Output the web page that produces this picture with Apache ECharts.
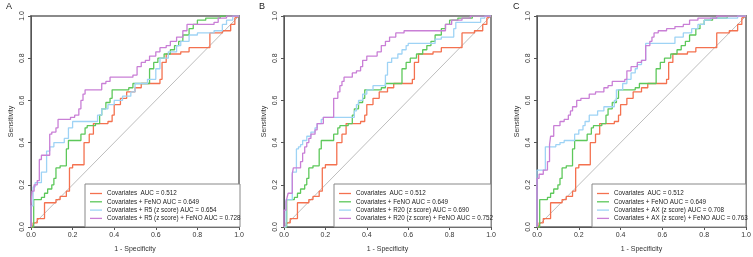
<!DOCTYPE html>
<html>
<head>
<meta charset="utf-8">
<script src="https://cdn.jsdelivr.net/npm/echarts@6/dist/echarts.min.js"></script>
<style>
  html, body { margin: 0; padding: 0; background: #fff; }
  #chart { width: 753px; height: 257px; }
</style>
</head>
<body>
<div id="chart"></div>
<script>
// ---- data: ROC points [1 - specificity, sensitivity] ----
const panelLetters = ["A", "B", "C"];
const tickLabels = ["0.0", "0.2", "0.4", "0.6", "0.8", "1.0"];
const diagonal = [[0, 0], [1, 1]];

// shared across panels
const covariates = [[0,0],[0.01,0],[0.01,0.02],[0.03,0.02],[0.03,0.04],[0.065,0.04],[0.065,0.115],[0.12,0.115],[0.12,0.13],[0.14,0.13],[0.14,0.145],[0.17,0.145],[0.17,0.17],[0.185,0.17],[0.185,0.28],[0.2,0.28],[0.2,0.295],[0.255,0.295],[0.255,0.40],[0.28,0.40],[0.28,0.44],[0.30,0.44],[0.30,0.49],[0.37,0.49],[0.37,0.50],[0.39,0.50],[0.39,0.53],[0.40,0.53],[0.40,0.58],[0.43,0.58],[0.43,0.61],[0.46,0.61],[0.46,0.64],[0.50,0.64],[0.50,0.66],[0.53,0.66],[0.53,0.68],[0.62,0.68],[0.62,0.70],[0.63,0.70],[0.63,0.78],[0.65,0.78],[0.65,0.82],[0.72,0.82],[0.72,0.83],[0.76,0.83],[0.76,0.85],[0.86,0.85],[0.86,0.92],[0.92,0.92],[0.92,0.93],[0.96,0.93],[0.96,0.96],[0.98,0.96],[0.98,0.99],[1,1]];
const feno = [[0,0],[0.013,0],[0.013,0.13],[0.05,0.13],[0.05,0.14],[0.065,0.14],[0.065,0.16],[0.08,0.16],[0.08,0.18],[0.1,0.18],[0.1,0.2],[0.11,0.2],[0.11,0.23],[0.12,0.23],[0.12,0.28],[0.14,0.28],[0.14,0.29],[0.17,0.29],[0.17,0.37],[0.18,0.37],[0.18,0.41],[0.24,0.41],[0.24,0.44],[0.26,0.44],[0.26,0.47],[0.27,0.47],[0.27,0.48],[0.31,0.48],[0.31,0.49],[0.33,0.49],[0.33,0.53],[0.34,0.53],[0.34,0.56],[0.36,0.56],[0.36,0.59],[0.38,0.59],[0.38,0.61],[0.39,0.61],[0.39,0.65],[0.47,0.65],[0.47,0.66],[0.49,0.66],[0.49,0.68],[0.57,0.68],[0.57,0.75],[0.59,0.75],[0.59,0.78],[0.61,0.78],[0.61,0.80],[0.64,0.80],[0.64,0.82],[0.67,0.82],[0.67,0.84],[0.69,0.84],[0.69,0.86],[0.71,0.86],[0.71,0.88],[0.73,0.88],[0.73,0.91],[0.76,0.91],[0.76,0.94],[0.78,0.94],[0.78,0.96],[0.8,0.96],[0.8,0.98],[0.84,0.98],[0.84,0.99],[0.91,0.99],[0.91,1],[1,1]];

// panel A
const r5 = [[0,0],[0,0.1],[0.01,0.1],[0.01,0.19],[0.02,0.19],[0.02,0.21],[0.05,0.21],[0.05,0.26],[0.075,0.26],[0.075,0.36],[0.09,0.36],[0.09,0.38],[0.11,0.38],[0.11,0.40],[0.16,0.40],[0.16,0.42],[0.18,0.42],[0.18,0.47],[0.2,0.47],[0.2,0.50],[0.32,0.50],[0.32,0.53],[0.34,0.53],[0.34,0.56],[0.37,0.56],[0.37,0.58],[0.40,0.58],[0.40,0.60],[0.44,0.60],[0.44,0.62],[0.48,0.62],[0.48,0.64],[0.50,0.64],[0.50,0.68],[0.56,0.68],[0.56,0.70],[0.60,0.70],[0.60,0.75],[0.62,0.75],[0.62,0.80],[0.66,0.80],[0.66,0.83],[0.70,0.83],[0.70,0.86],[0.72,0.86],[0.72,0.88],[0.76,0.88],[0.76,0.91],[0.80,0.91],[0.80,0.92],[0.88,0.92],[0.88,0.93],[0.92,0.93],[0.92,0.96],[0.94,0.96],[0.94,0.98],[0.97,0.98],[0.97,1],[1,1]];
const r5Feno = [[0,0],[0,0.1],[0.005,0.1],[0.005,0.17],[0.015,0.17],[0.015,0.2],[0.03,0.2],[0.03,0.22],[0.04,0.22],[0.04,0.32],[0.05,0.32],[0.05,0.34],[0.09,0.34],[0.09,0.44],[0.1,0.44],[0.1,0.45],[0.12,0.45],[0.12,0.47],[0.13,0.47],[0.13,0.51],[0.19,0.51],[0.19,0.52],[0.21,0.52],[0.21,0.53],[0.23,0.53],[0.23,0.56],[0.24,0.56],[0.24,0.60],[0.25,0.60],[0.25,0.63],[0.26,0.63],[0.26,0.65],[0.34,0.65],[0.34,0.68],[0.36,0.68],[0.36,0.69],[0.38,0.69],[0.38,0.71],[0.49,0.71],[0.49,0.72],[0.51,0.72],[0.51,0.76],[0.53,0.76],[0.53,0.78],[0.55,0.78],[0.55,0.79],[0.57,0.79],[0.57,0.81],[0.60,0.81],[0.60,0.83],[0.62,0.83],[0.62,0.85],[0.65,0.85],[0.65,0.86],[0.67,0.86],[0.67,0.88],[0.70,0.88],[0.70,0.9],[0.73,0.9],[0.73,0.93],[0.75,0.93],[0.75,0.96],[0.88,0.96],[0.88,0.97],[0.9,0.97],[0.9,0.99],[0.94,0.99],[0.94,1],[1,1]];

// panel B
const r20 = [[0,0],[0.01,0],[0.01,0.13],[0.04,0.13],[0.04,0.26],[0.06,0.26],[0.06,0.37],[0.07,0.37],[0.07,0.38],[0.08,0.38],[0.08,0.39],[0.09,0.39],[0.09,0.41],[0.11,0.41],[0.11,0.43],[0.13,0.43],[0.13,0.45],[0.15,0.45],[0.15,0.47],[0.16,0.47],[0.16,0.49],[0.18,0.49],[0.18,0.51],[0.19,0.51],[0.19,0.52],[0.34,0.52],[0.34,0.55],[0.35,0.55],[0.35,0.58],[0.36,0.58],[0.36,0.60],[0.38,0.60],[0.38,0.63],[0.40,0.63],[0.40,0.65],[0.43,0.65],[0.43,0.67],[0.49,0.67],[0.49,0.72],[0.50,0.72],[0.50,0.78],[0.52,0.78],[0.52,0.80],[0.55,0.80],[0.55,0.82],[0.57,0.82],[0.57,0.84],[0.59,0.84],[0.59,0.86],[0.60,0.86],[0.60,0.87],[0.73,0.87],[0.73,0.89],[0.76,0.89],[0.76,0.90],[0.82,0.90],[0.82,0.94],[0.83,0.94],[0.83,0.97],[0.95,0.97],[0.95,0.99],[0.97,0.99],[0.97,1],[1,1]];
const r20Feno = [[0,0],[0,0.08],[0.01,0.08],[0.01,0.12],[0.015,0.12],[0.015,0.14],[0.02,0.14],[0.02,0.16],[0.04,0.16],[0.04,0.25],[0.045,0.25],[0.045,0.28],[0.08,0.28],[0.08,0.31],[0.09,0.31],[0.09,0.35],[0.10,0.35],[0.10,0.38],[0.11,0.38],[0.11,0.40],[0.12,0.40],[0.12,0.42],[0.13,0.42],[0.13,0.44],[0.15,0.44],[0.15,0.46],[0.16,0.46],[0.16,0.49],[0.19,0.49],[0.19,0.52],[0.24,0.52],[0.24,0.61],[0.26,0.61],[0.26,0.64],[0.27,0.64],[0.27,0.67],[0.28,0.67],[0.28,0.69],[0.29,0.69],[0.29,0.71],[0.33,0.71],[0.33,0.73],[0.35,0.73],[0.35,0.74],[0.37,0.74],[0.37,0.76],[0.38,0.76],[0.38,0.79],[0.40,0.79],[0.40,0.81],[0.45,0.81],[0.45,0.83],[0.47,0.83],[0.47,0.86],[0.49,0.86],[0.49,0.88],[0.51,0.88],[0.51,0.90],[0.54,0.90],[0.54,0.92],[0.58,0.92],[0.58,0.93],[0.78,0.93],[0.78,0.96],[0.81,0.96],[0.81,0.98],[0.86,0.98],[0.86,0.99],[0.9,0.99],[0.9,1],[1,1]];

// panel C
const ax = [[0,0],[0,0.27],[0.04,0.27],[0.04,0.38],[0.09,0.38],[0.09,0.39],[0.11,0.39],[0.11,0.40],[0.13,0.40],[0.13,0.41],[0.18,0.41],[0.18,0.44],[0.2,0.44],[0.2,0.46],[0.22,0.46],[0.22,0.48],[0.23,0.48],[0.23,0.50],[0.25,0.50],[0.25,0.53],[0.29,0.53],[0.29,0.55],[0.32,0.55],[0.32,0.57],[0.37,0.57],[0.37,0.60],[0.38,0.60],[0.38,0.65],[0.41,0.65],[0.41,0.68],[0.43,0.68],[0.43,0.70],[0.45,0.70],[0.45,0.73],[0.47,0.73],[0.47,0.75],[0.48,0.75],[0.48,0.77],[0.50,0.77],[0.50,0.79],[0.52,0.79],[0.52,0.87],[0.66,0.87],[0.66,0.90],[0.70,0.90],[0.70,0.92],[0.74,0.92],[0.74,0.94],[0.77,0.94],[0.77,0.96],[0.80,0.96],[0.80,0.98],[0.83,0.98],[0.83,0.99],[0.96,0.99],[0.96,1],[1,1]];
const axFeno = [[0,0],[0,0.23],[0.01,0.23],[0.01,0.25],[0.03,0.25],[0.03,0.27],[0.05,0.27],[0.05,0.31],[0.06,0.31],[0.06,0.39],[0.065,0.39],[0.065,0.43],[0.08,0.43],[0.08,0.48],[0.11,0.48],[0.11,0.50],[0.13,0.50],[0.13,0.51],[0.15,0.51],[0.15,0.53],[0.16,0.53],[0.16,0.55],[0.17,0.55],[0.17,0.57],[0.19,0.57],[0.19,0.60],[0.21,0.60],[0.21,0.61],[0.25,0.61],[0.25,0.63],[0.28,0.63],[0.28,0.64],[0.32,0.64],[0.32,0.66],[0.34,0.66],[0.34,0.67],[0.36,0.67],[0.36,0.69],[0.42,0.69],[0.42,0.70],[0.43,0.70],[0.43,0.74],[0.45,0.74],[0.45,0.76],[0.48,0.76],[0.48,0.78],[0.50,0.78],[0.50,0.79],[0.52,0.79],[0.52,0.86],[0.54,0.86],[0.54,0.88],[0.55,0.88],[0.55,0.90],[0.56,0.90],[0.56,0.92],[0.58,0.92],[0.58,0.93],[0.62,0.93],[0.62,0.94],[0.66,0.94],[0.66,0.95],[0.70,0.95],[0.70,0.96],[0.73,0.96],[0.73,0.98],[0.77,0.98],[0.77,0.99],[0.86,0.99],[0.86,1],[1,1]];

const panelNames = [
  ["Covariates  AUC = 0.512", "Covariates + FeNO AUC = 0.649", "Covariates + R5 (z score) AUC = 0.654", "Covariates + R5 (z score) + FeNO AUC = 0.728"],
  ["Covariates  AUC = 0.512", "Covariates + FeNO AUC = 0.649", "Covariates + R20 (z score) AUC = 0.690", "Covariates + R20 (z score) + FeNO AUC = 0.752"],
  ["Covariates  AUC = 0.512", "Covariates + FeNO AUC = 0.649", "Covariates + AX (z score) AUC = 0.708", "Covariates + AX (z score) + FeNO AUC = 0.763"],
];
const panelCurves = [
  [covariates, feno, r5, r5Feno],
  [covariates, feno, r20, r20Feno],
  [covariates, feno, ax, axFeno],
];

/* ---- layout ---- */
const COLORS = ["#f4714f", "#5dc85a", "#9ed3f5", "#c97fd6"];
const FONT = "Liberation Sans, Arial, sans-serif";
const grids = [
  { left: 31, top: 16, width: 208, height: 211 },
  { left: 284, top: 16, width: 207, height: 211 },
  { left: 537, top: 16, width: 209, height: 211 },
];
const legendBoxes = [
  { x: 85, w: 155 },
  { x: 334, w: 157 },
  { x: 592, w: 154 },
];
const letterLeft = [6, 259, 513];

const chart = echarts.init(document.getElementById("chart"), null, { renderer: "canvas" });

const axisCommon = {
  type: "value",
  min: 0,
  max: 1,
  interval: 0.2,
  splitLine: { show: false },
  axisLine: { show: true, onZero: false, lineStyle: { color: "#555", width: 1 } },
  axisTick: { show: true, length: 3, lineStyle: { color: "#555" } },
  nameTextStyle: { fontSize: 7, color: "#333", fontFamily: FONT },
};
const labelCommon = {
  fontSize: 7,
  color: "#333",
  fontFamily: FONT,
  margin: 5,
  overflow: "none",
  hideOverlap: false,
  showMinLabel: true,
  showMaxLabel: true,
  formatter: (v) => tickLabels[Math.round(v * 5)],
};

const xAxis = grids.map((g, i) => ({
  ...axisCommon,
  gridIndex: i,
  name: "1 - Specificity",
  nameLocation: "middle",
  nameGap: 19,
  axisLabel: { ...labelCommon },
}));
const yAxis = grids.map((g, i) => ({
  ...axisCommon,
  gridIndex: i,
  name: "Sensitivity",
  nameLocation: "middle",
  nameGap: 16,
  axisLabel: { ...labelCommon, rotate: 90 },
}));

const series = [];
panelCurves.forEach((curves, p) => {
  series.push({
    type: "line",
    xAxisIndex: p,
    yAxisIndex: p,
    data: diagonal,
    symbol: "none",
    silent: true,
    lineStyle: { color: "#bdbdbd", width: 1 },
    z: 1,
  });
  curves.forEach((pts, k) => {
    series.push({
      name: panelNames[p][k],
      type: "line",
      xAxisIndex: p,
      yAxisIndex: p,
      data: pts,
      symbol: "none",
      color: COLORS[k],
      lineStyle: { color: COLORS[k], width: 1.3 },
      z: 2 + k,
    });
  });
});

const legend = legendBoxes.map((b, p) => ({
  data: panelNames[p],
  orient: "vertical",
  left: b.x + 5,
  top: 190,
  padding: 0,
  icon: "rect",
  itemWidth: 12,
  itemHeight: 1.3,
  itemGap: 1.3,
  selectedMode: false,
  textStyle: { fontSize: 6.3, color: "#222", fontFamily: FONT, lineHeight: 7 },
  z: 10,
}));

const graphic = legendBoxes.map((b) => ({
  type: "rect",
  shape: { x: b.x, y: 184, width: b.w, height: 43 },
  style: { fill: "#fff", stroke: "#888", lineWidth: 1 },
  z: 5,
}));

chart.setOption({
  backgroundColor: "#fff",
  animation: false,
  title: panelLetters.map((t, i) => ({
    text: t,
    left: letterLeft[i],
    top: 2,
    padding: 0,
    textStyle: { fontSize: 9, fontWeight: "normal", color: "#222", fontFamily: FONT },
  })),
  grid: grids.map((g) => ({ ...g, show: true, borderColor: "#8a8a8a", borderWidth: 2, backgroundColor: "transparent", outerBoundsMode: "none" })),
  xAxis,
  yAxis,
  legend,
  graphic,
  series,
});
</script>
</body>
</html>
